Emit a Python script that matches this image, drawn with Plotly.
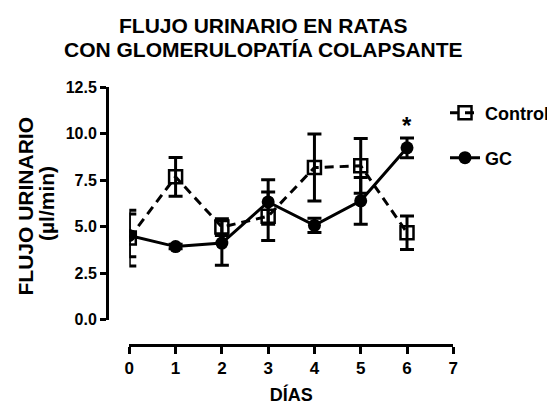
import plotly.graph_objects as go

days = [0, 1, 2, 3, 4, 5, 6]
control = [4.38, 7.67, 4.97, 5.55, 8.17, 8.26, 4.67]
control_err = [1.5, 1.04, 0.45, 1.3, 1.8, 1.47, 0.9]
gc = [4.52, 3.92, 4.11, 6.32, 5.06, 6.38, 9.23]
gc_err = [1.15, 0.12, 1.2, 1.2, 0.38, 1.26, 0.53]
sig_day = [6]
sig_y = [10.45]
y_ticks = [0, 2.5, 5, 7.5, 10, 12.5]
x_ticks = [0, 1, 2, 3, 4, 5, 6, 7]
title_lines = ["FLUJO URINARIO EN RATAS", "CON GLOMERULOPATÍA COLAPSANTE"]

FONT = "Liberation Sans, Arial, sans-serif"
OFF = 8  # page body margin
W, H = 555 - OFF, 405 - OFF


def fx(px):
    return (px - OFF) / W


def fy(py):
    return 1 - (py - OFF) / H


fig = go.Figure()
fig.add_trace(go.Scatter(
    x=days, y=control, name="Control", mode="lines+markers",
    line=dict(color="black", width=3, dash="9px,6px"),
    marker=dict(symbol="square-open", size=13, color="black", line=dict(width=2.5)),
    error_y=dict(type="data", array=control_err, color="black", thickness=3, width=7),
    legend="legend", showlegend=True,
))
fig.add_trace(go.Scatter(
    x=days, y=gc, name="GC", mode="lines+markers",
    line=dict(color="black", width=3),
    marker=dict(symbol="circle", size=13, color="black"),
    error_y=dict(type="data", array=gc_err, color="black", thickness=3, width=7),
    legend="legend2", showlegend=True,
))

for d, s in zip(sig_day, sig_y):
    fig.add_annotation(x=d, y=s, text="<b>*</b>", showarrow=False,
                       font=dict(family=FONT, size=24, color="black"))

# title (two lines)
for txt, py in zip(title_lines, [25, 50]):
    fig.add_annotation(xref="paper", yref="paper", x=fx(263), y=fy(py),
                       text=f"<b>{txt}</b>", showarrow=False,
                       xanchor="center", yanchor="middle",
                       font=dict(family=FONT, size=21, color="black"))

# y-axis title (two lines, tight spacing)
fig.add_annotation(xref="paper", yref="paper", x=fx(24.5), y=fy(206),
                   text="<b>FLUJO URINARIO</b>", textangle=-90, showarrow=False,
                   xanchor="center", yanchor="middle",
                   font=dict(family=FONT, size=21, color="black"))
fig.add_annotation(xref="paper", yref="paper", x=fx(46), y=fy(204),
                   text="<b>(µl/min)</b>", textangle=-90, showarrow=False,
                   xanchor="center", yanchor="middle",
                   font=dict(family=FONT, size=21, color="black"))

x0, x1 = 129.3, 453.3
y0, y1 = 319.5, 87
fig.update_layout(
    width=W, height=H,
    margin=dict(l=0, r=0, t=0, b=0, autoexpand=False),
    paper_bgcolor="white", plot_bgcolor="white",
    font=dict(family=FONT, color="black"),
    showlegend=True,
    xaxis=dict(range=[0, 7], domain=[fx(x0), fx(x1)], anchor="free",
               position=fy(345), tickvals=x_ticks, automargin=False,
               showline=True, linewidth=3, linecolor="black",
               ticks="outside", ticklen=7, tickwidth=3, tickcolor="black",
               showgrid=False, zeroline=False,
               tickfont=dict(family=FONT, size=17, color="black", weight="bold"),
               title=dict(text="<b>DÍAS</b>", standoff=11,
                          font=dict(family=FONT, size=18, color="black"))),
    yaxis=dict(range=[0, 12.5], domain=[fy(y0), fy(y1)], anchor="free",
               position=fx(107), tickvals=y_ticks, tickformat=".1f", automargin=False,
               showline=True, linewidth=3, linecolor="black",
               ticks="outside", ticklen=6, tickwidth=3, tickcolor="black",
               showgrid=False, zeroline=False,
               tickfont=dict(family=FONT, size=16, color="black", weight="bold")),
    legend=dict(x=fx(445), y=fy(113), xanchor="left", yanchor="middle",
                bgcolor="rgba(0,0,0,0)", itemwidth=30,
                font=dict(family=FONT, size=18, color="black", weight="bold")),
    legend2=dict(x=fx(445), y=fy(158), xanchor="left", yanchor="middle",
                 bgcolor="rgba(0,0,0,0)", itemwidth=30,
                 font=dict(family=FONT, size=18, color="black", weight="bold")),
)

fig.write_html("out.html")
